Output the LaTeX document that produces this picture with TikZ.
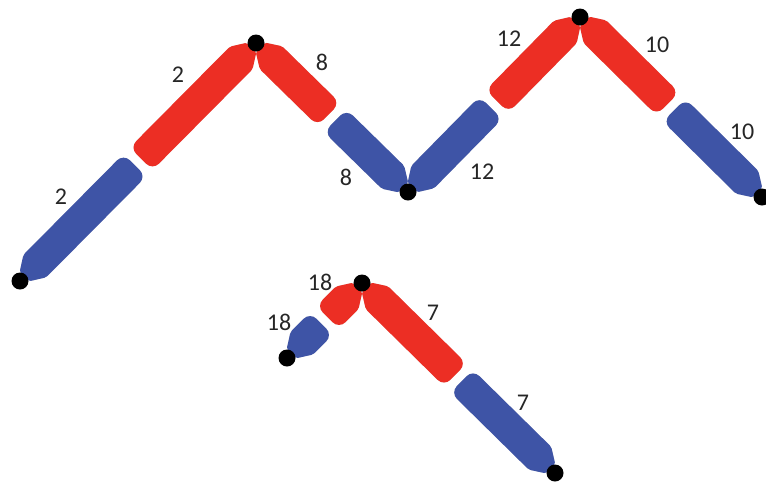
\documentclass[tikz,border=0pt]{standalone}
\usepackage{fontspec}
\setmainfont{Carlito}
\usetikzlibrary{calc}
\definecolor{barblue}{RGB}{62,84,166}
\definecolor{barred}{RGB}{236,46,36}
\tikzset{
  dot/.style={circle,fill=black,inner sep=0pt,minimum size=17pt},
  lbl/.style={font=\fontsize{24}{24}\selectfont,text=black!85},
}
\newcommand\segpath[2]{%
  [rounded corners=2pt]
  ($(#1)!6pt!(#2)!6.5pt!90:(#2)$) --
  ($(#1)!21pt!(#2)!16pt!90:(#2)$) [rounded corners=9pt] --
  ($(#1)!0.5!(#2)!4.5pt!(#1)!16pt!-90:(#1)$) --
  ($(#1)!0.5!(#2)!4.5pt!(#1)!16pt!90:(#1)$) [rounded corners=2pt] --
  ($(#1)!21pt!(#2)!16pt!-90:(#2)$) --
  ($(#1)!6pt!(#2)!6.5pt!-90:(#2)$) -- cycle}
\newcommand\segbar[3]{%
  \fill[black,opacity=0.16,shift={(2,3)}] \segpath{#1}{#2};
  \fill[#3] \segpath{#1}{#2};}
\begin{document}
\begin{tikzpicture}[x=1pt,y=-1pt]
\useasboundingbox (0,0) rectangle (766,483);
\clip (0,0) rectangle (766,483);
\coordinate (d1) at (20,281);
\coordinate (d2) at (256,43);
\coordinate (d3) at (408,192);
\coordinate (d4) at (580,17);
\coordinate (d5) at (762,197);
\coordinate (d6) at (287,358);
\coordinate (d7) at (362,283);
\coordinate (d8) at (555,473);
% upper chain
\segbar{d1}{d2}{barblue}
\segbar{d2}{d1}{barred}
\segbar{d2}{d3}{barred}
\segbar{d3}{d2}{barblue}
\segbar{d3}{d4}{barblue}
\segbar{d4}{d3}{barred}
\segbar{d4}{d5}{barred}
\segbar{d5}{d4}{barblue}
% lower chain
\segbar{d6}{d7}{barblue}
\segbar{d7}{d6}{barred}
\segbar{d7}{d8}{barred}
\segbar{d8}{d7}{barblue}
% dots
\foreach \i in {1,...,8} \node[dot] (n\i) at (d\i) {};
% labels
\node[lbl] (l1) at (61,197) {2};
\node[lbl] (l2) at (178,75) {2};
\node[lbl] (l3) at (322,62) {8};
\node[lbl] (l4) at (346,177) {8};
\node[lbl] (l5) at (509,39) {12};
\node[lbl] (l6) at (482,172) {12};
\node[lbl] (l7) at (657,45) {10};
\node[lbl] (l8) at (742,132) {10};
\node[lbl] (l9) at (320,282) {18};
\node[lbl] (l10) at (279,322) {18};
\node[lbl] (l11) at (433,313) {7};
\node[lbl] (l12) at (523,403) {7};
\end{tikzpicture}
\end{document}
